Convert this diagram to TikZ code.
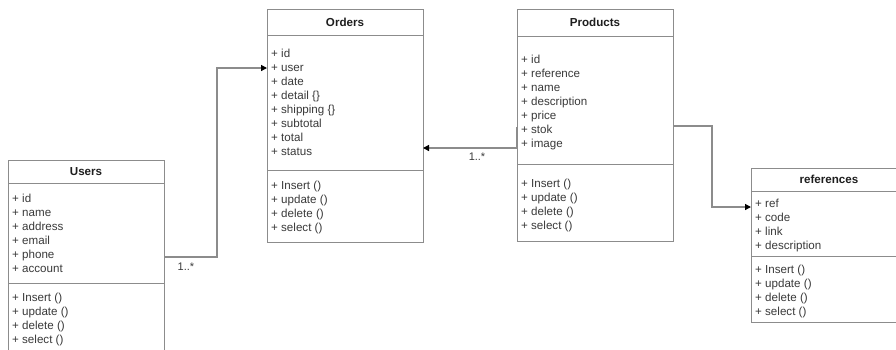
\documentclass[tikz,border=0pt]{standalone}
\usepackage{fontspec}
\setmainfont{Liberation Sans}
\usetikzlibrary{arrows.meta}
\definecolor{bordergray}{HTML}{8C8C8C}
\definecolor{txtgray}{HTML}{3A3A3A}
\definecolor{hdrtxt}{HTML}{1E1E1E}
\begin{document}
\begin{tikzpicture}[x=1pt,y=-1pt,
  box/.style={draw=bordergray, line width=1pt, inner sep=0pt, outer sep=0pt, minimum width=156pt, anchor=north west},
  hdr/.style={box, font=\fontsize{11.6}{14}\selectfont\bfseries, text=hdrtxt},
  txt/.style={font=\fontsize{11.6}{14}\selectfont, text=txtgray, align=left, inner sep=0pt, anchor=base west},
  lbl/.style={font=\fontsize{11}{13}\selectfont, text=txtgray, inner sep=0pt},
  conn/.style={draw=bordergray, line width=1.3pt, -{Triangle[length=6pt,width=6pt,color=black]}}]
\useasboundingbox (0,0) rectangle (896,349);
\clip (0,0) rectangle (896,349);
\fill[white] (0,0) rectangle (896,349);

% Users
\node[hdr, minimum height=23pt] (usersH) at (8,160) {Users};
\node[box, minimum height=100pt] (usersA) at (usersH.south west) {};
\node[box, minimum height=80pt] (usersM) at (usersA.south west) {};
\node[txt] (usersAT) at (12,272) {+ id\\+ name\\+ address\\+ email\\+ phone\\+ account};
\node[txt] (usersMT) at (12,343) {+ Insert ()\\+ update ()\\+ delete ()\\+ select ()};

% Orders
\node[hdr, minimum height=26pt] (ordersH) at (267,9) {Orders};
\node[box, minimum height=135pt] (ordersA) at (ordersH.south west) {};
\node[box, minimum height=72pt] (ordersM) at (ordersA.south west) {};
\node[txt] (ordersAT) at (271,155) {+ id\\+ user\\+ date\\+ detail \{\}\\+ shipping \{\}\\+ subtotal\\+ total\\+ status};
\node[txt] (ordersMT) at (271,231) {+ Insert ()\\+ update ()\\+ delete ()\\+ select ()};

% Products
\node[hdr, minimum height=27pt] (prodH) at (517,9) {Products};
\node[box, minimum height=128pt] (prodA) at (prodH.south west) {};
\node[box, minimum height=77pt] (prodM) at (prodA.south west) {};
\node[txt] (prodAT) at (521,147) {+ id\\+ reference\\+ name\\+ description\\+ price\\+ stok\\+ image};
\node[txt] (prodMT) at (521,229) {+ Insert ()\\+ update ()\\+ delete ()\\+ select ()};

% references
\node[hdr, minimum height=23pt] (refH) at (751,168) {references};
\node[box, minimum height=65pt] (refA) at (refH.south west) {};
\node[box, minimum height=66pt] (refM) at (refA.south west) {};
\node[txt] (refAT) at (755,249) {+ ref\\+ code\\+ link\\+ description};
\node[txt] (refMT) at (755,315) {+ Insert ()\\+ update ()\\+ delete ()\\+ select ()};

% connectors
\coordinate (uo1) at (usersA.east |- 0,257);
\coordinate (uo2) at (ordersA.west |- 0,68);
\coordinate (b1) at (217,68);
\draw[conn] (uo1) -| (b1) -- (uo2);
\node[lbl] (l1) at (186,267) {1..*};

\coordinate (po0) at (prodA.west |- 0,127);
\coordinate (po1) at (prodA.west |- 0,148);
\coordinate (po2) at (ordersA.east |- 0,148);
\draw[conn] (po0) -- (po1) -- (po2);
\node[lbl] (l2) at (477,157) {1..*};

\coordinate (pr1) at (prodA.east |- 0,126);
\coordinate (pr2) at (refA.west |- 0,207);
\coordinate (b2) at (712,207);
\draw[conn] (pr1) -| (b2) -- (pr2);
\end{tikzpicture}
\end{document}
